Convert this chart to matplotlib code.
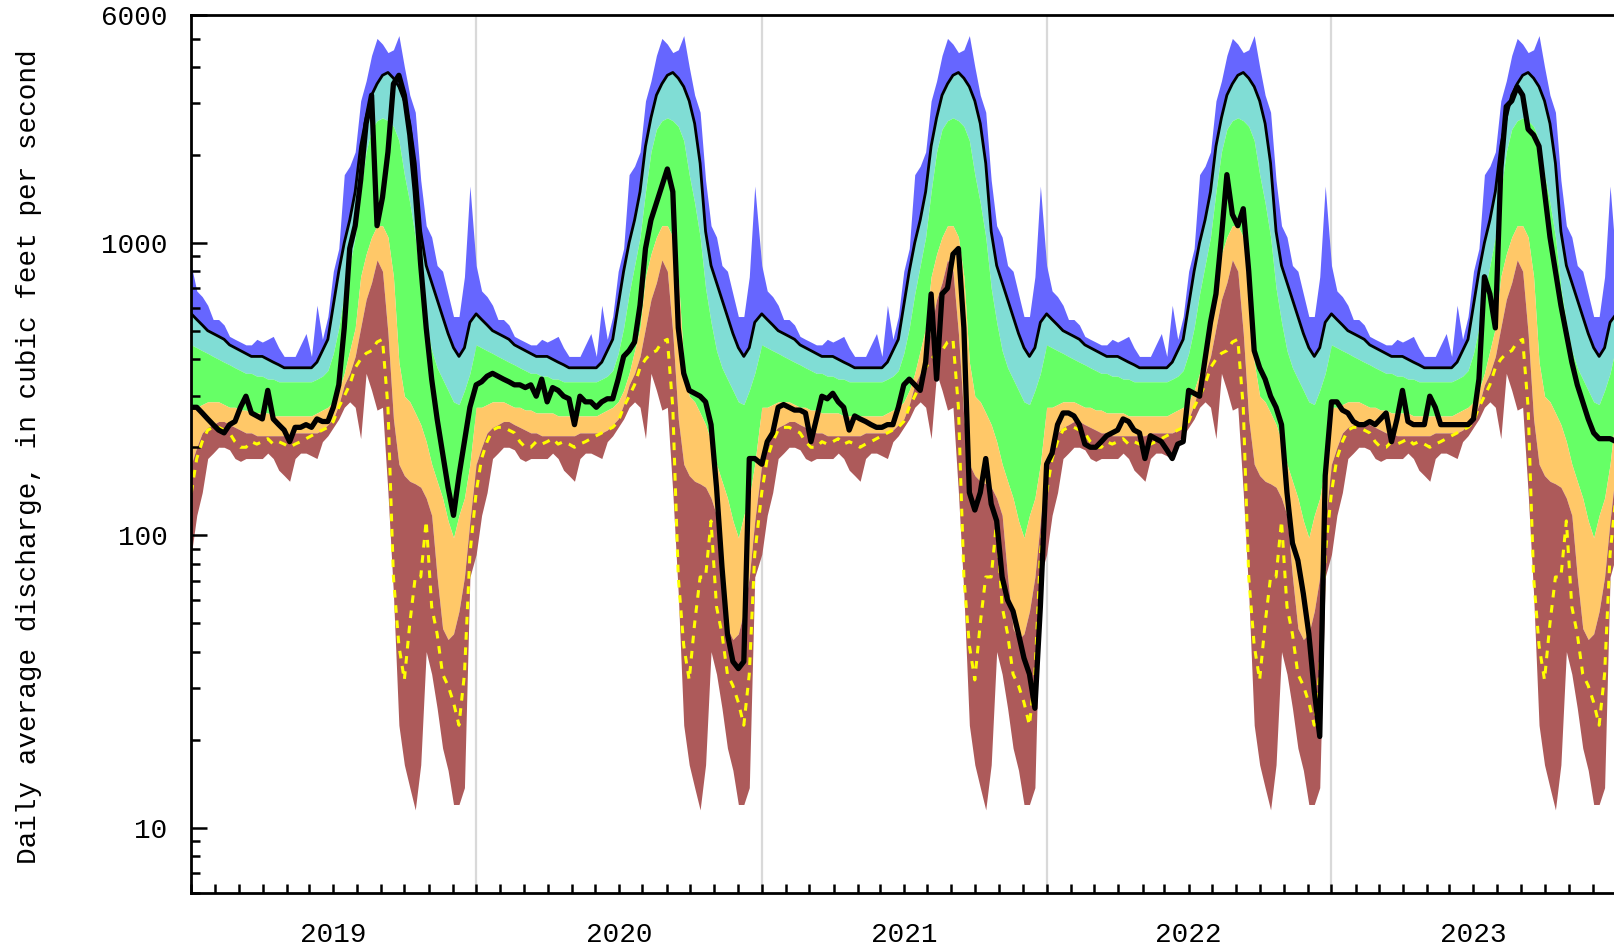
import matplotlib
matplotlib.use("Agg")
import matplotlib.pyplot as plt
import matplotlib.dates as mdates
import matplotlib.ticker as mtick
import numpy as np
import pandas as pd

# day-of-water-year statistics, one value per week starting Oct 1 (cfs)
q_max = [837, 685, 655, 612, 547, 547, 524, 479, 468, 458, 448, 448, 468, 458, 468, 479, 438, 409,
         409, 409, 448, 490, 409, 612, 468, 560, 800, 957, 1712, 1830, 2047, 3060, 3579, 4377, 5005,
         4786, 4476, 4577, 5118, 4004, 3201, 2799, 1637, 1145, 1047, 837, 800, 669, 560, 560, 766, 1565]
q_p90 = [572, 547, 524, 501, 490, 479, 468, 448, 438, 428, 419, 409, 409, 409, 400, 391, 383, 374,
         374, 374, 374, 374, 374, 391, 428, 468, 612, 800, 1001, 1197, 1497, 2141, 2677, 3201, 3500,
         3744, 3828, 3660, 3423, 3060, 2560, 1872, 1095, 837, 732, 640, 560, 490, 438, 409, 438, 535]
q_p75 = [448, 438, 428, 419, 409, 400, 391, 383, 374, 366, 358, 358, 350, 350, 342, 342, 335, 335,
         335, 335, 335, 335, 335, 342, 350, 366, 419, 512, 669, 837, 1047, 1497, 2047, 2448, 2618,
         2677, 2618, 2503, 2238, 1712, 1369, 1047, 700, 535, 428, 374, 342, 313, 286, 280, 313, 358]
q_p25 = [274, 274, 280, 286, 286, 286, 280, 274, 274, 268, 268, 262, 262, 262, 262, 256, 256, 256,
         256, 256, 256, 256, 256, 262, 268, 274, 286, 313, 358, 428, 512, 766, 915, 1047, 1145,
         1145, 1047, 766, 391, 299, 286, 262, 239, 209, 175, 153, 134, 112, 98, 117, 134, 175]
q_p10 = [175, 200, 224, 234, 239, 245, 245, 239, 234, 229, 224, 224, 219, 219, 219, 219, 219, 219,
         219, 224, 224, 224, 224, 224, 229, 239, 250, 280, 327, 358, 409, 512, 640, 732, 875,
         800, 490, 250, 175, 160, 153, 150, 146, 134, 117, 72, 48, 44, 46, 55, 72, 112]
q_min = [86, 117, 140, 183, 191, 200, 200, 196, 183, 179, 183, 183, 183, 183, 191, 183, 167, 160,
         153, 183, 191, 191, 187, 183, 209, 219, 234, 250, 274, 286, 274, 214, 358, 313, 268,
         274, 140, 63, 22.4, 16.4, 13.7, 11.5, 16.4, 40, 33.5, 25.6, 18.7, 15.7, 12.0, 12.0, 13.7, 72]
q_yellow = [140, 183, 209, 229, 234, 234, 229, 224, 209, 200, 200, 209, 205, 209, 214, 205, 209, 205,
            200, 205, 209, 214, 219, 224, 229, 234, 245, 274, 299, 327, 374, 400, 419, 428, 458,
            468, 274, 72, 42, 32, 50, 72, 72, 112, 57, 46, 33.5, 30.6, 26.8, 22.4, 33.5, 86]

# observed daily flow, weekly readings per water year
flow_2019 = [274, 274, 262, 250, 239, 229, 224, 239, 245, 274, 299, 262, 256, 250, 313, 250, 239, 229,
             209, 234, 234, 239, 234, 250, 245, 245, 274, 327, 512, 957, 1145, 1637, 2560, 3201, 1145,
             1432, 2047, 3500, 3744, 3201, 2340, 1497, 837, 512, 342, 250, 191, 146, 117, 160, 209, 274]
flow_2020 = [327, 335, 350, 358, 350, 342, 335, 327, 327, 320, 327, 299, 342, 286, 320, 313, 299, 293,
             239, 299, 286, 286, 274, 286, 293, 293, 342, 409, 428, 458, 612, 957, 1197, 1369, 1565,
             1790, 1497, 512, 358, 313, 306, 299, 286, 239, 146, 78, 46, 37, 35, 37, 183, 183]
flow_2021 = [175, 209, 224, 274, 280, 274, 268, 268, 262, 209, 250, 299, 293, 306, 286, 274, 229, 256,
             250, 245, 239, 234, 234, 239, 239, 274, 327, 342, 327, 313, 391, 669, 342, 669, 700,
             915, 957, 512, 140, 122, 140, 183, 128, 112, 72, 60, 55, 46, 38, 33.5, 25.6, 57]
flow_2022 = [175, 191, 239, 262, 262, 256, 239, 205, 200, 200, 209, 219, 224, 229, 250, 245, 229, 224,
             183, 219, 214, 209, 196, 183, 205, 209, 313, 306, 299, 400, 535, 669, 1047, 1712, 1252,
             1145, 1309, 800, 428, 374, 342, 299, 274, 239, 140, 94, 82, 63, 46, 29.3, 20.5, 160]
flow_2023 = [286, 286, 268, 262, 245, 239, 239, 245, 239, 250, 262, 209, 250, 313, 245, 239, 239, 239,
             299, 274, 239, 239, 239, 239, 239, 239, 250, 342, 766, 669, 512, 1790, 2927, 3060, 3423,
             3201, 2448, 2340, 2141, 1497, 1047, 800, 612, 490, 391, 327, 286, 250, 224, 214, 214, 214]
flow_end = 209

water_years = [2019, 2020, 2021, 2022, 2023]
y_ticks = [10, 100, 1000, 6000]

plt.rcParams['font.family'] = ['Liberation Mono', 'DejaVu Sans Mono']

# weekly knots, restarting every Oct 1
dates = []
for wy in water_years:
    start = pd.Timestamp(f"{wy - 1}-10-01")
    dates += [start + pd.Timedelta(days=7 * k) for k in range(len(q_max))]
dates.append(pd.Timestamp(f"{water_years[-1]}-10-01"))
x = mdates.date2num(pd.DatetimeIndex(dates).to_pydatetime())


def tiled(vals):
    return np.array(list(vals) * len(water_years) + [vals[0]], dtype=float)


flow = np.array(flow_2019 + flow_2020 + flow_2021 + flow_2022 + flow_2023 + [flow_end], dtype=float)

fig = plt.figure(figsize=(16.14, 9.51), dpi=100)
ax = fig.add_axes([191.3 / 1614, 58.5 / 951, (1616.3 - 191.3) / 1614, 877.1 / 951])

for wy in water_years[1:]:
    ax.axvline(mdates.date2num(pd.Timestamp(f"{wy - 1}-10-01")), color="#d9d9d9", lw=1.6, zorder=0)

ax.fill_between(x, tiled(q_p90), tiled(q_max), color="#6666ff", lw=0, zorder=1)
ax.fill_between(x, tiled(q_p75), tiled(q_p90), color="#80ddd5", lw=0, zorder=1)
ax.fill_between(x, tiled(q_p25), tiled(q_p75), color="#66ff66", lw=0, zorder=1)
ax.fill_between(x, tiled(q_p10), tiled(q_p25), color="#ffc868", lw=0, zorder=1)
ax.fill_between(x, tiled(q_min), tiled(q_p10), color="#ad5a5a", lw=0, zorder=1)
ax.plot(x, tiled(q_yellow), color="#ffff00", lw=2.2, dashes=(2.5, 2.5), zorder=2)
ax.plot(x, tiled(q_p90), color="black", lw=2.0, zorder=3)
ax.plot(x, flow, color="black", lw=3.8, zorder=4)

ax.set_yscale("log")
ax.set_ylim(6, 6000)
ax.set_xlim(x[0], x[-1])

ax.yaxis.set_major_locator(mtick.FixedLocator(y_ticks))
ax.yaxis.set_major_formatter(mtick.FixedFormatter([str(t) for t in y_ticks]))
ax.yaxis.set_minor_locator(mtick.LogLocator(base=10, subs=np.arange(2, 10)))
ax.yaxis.set_minor_formatter(mtick.NullFormatter())
ax.tick_params(axis="y", which="major", direction="in", length=11.5, width=1.8, pad=17, labelsize=20)
ax.tick_params(axis="y", which="minor", direction="in", length=6.5, width=1.8)
ax.xaxis.set_major_locator(mdates.MonthLocator())
ax.xaxis.set_major_formatter(mtick.NullFormatter())
ax.xaxis.set_minor_locator(mtick.NullLocator())
ax.tick_params(axis="x", which="major", direction="in", length=6.5, width=1.8)

for side in ["top", "left", "bottom"]:
    ax.spines[side].set_linewidth(2.0)
ax.spines["right"].set_visible(False)

for wy in water_years:
    ax.text(mdates.date2num(pd.Timestamp(f"{wy}-04-01")), -0.0485, str(wy),
            transform=ax.get_xaxis_transform(), ha="center", va="center", fontsize=20)

fig.text(29 / 1614, 1 - 457 / 951, "Daily average discharge, in cubic feet per second",
         rotation=90, ha="center", va="center", fontsize=20)

fig.savefig("out.png", dpi=100)
